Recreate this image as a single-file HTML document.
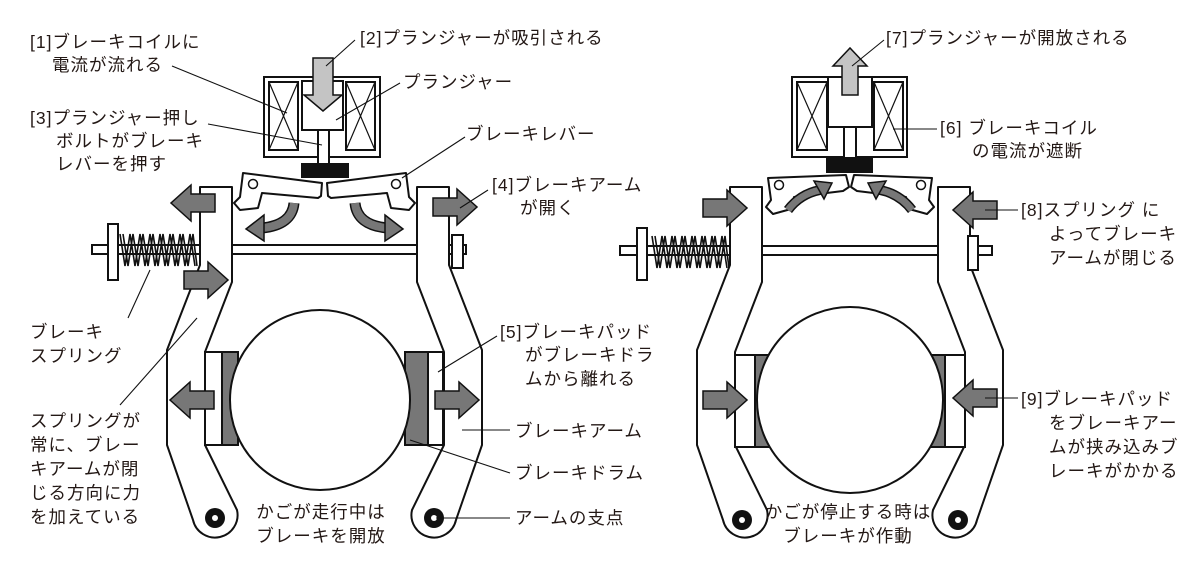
<!DOCTYPE html>
<html><head><meta charset="utf-8"><style>
html,body{margin:0;padding:0;background:#fff}
svg{display:block}
text{font-family:"Liberation Sans","Noto Sans CJK JP",sans-serif;font-size:17.5px;letter-spacing:1px;fill:#231815}
</style></head><body>
<svg width="1200" height="562" viewBox="0 0 1200 562" xmlns="http://www.w3.org/2000/svg">
<defs>
<path id="arr" d="M0,-9 L24,-9 L24,-18 L44,0 L24,18 L24,9 L0,9 Z" fill="#777" stroke="#111" stroke-width="1.5"/>
<path id="armL" d="M232,187 L200,187 L200,265 L167,350 L167,445 L193,520 A22,22 0 0 0 237,510 L205,445 L205,352 L232,282 Z" fill="#fff" stroke="#111" stroke-width="2" stroke-linejoin="round"/>
<g id="springL" fill="none" stroke="#111" stroke-width="1.6">
<path d="M120,234 L125,266 L130,234 L135,266 L140,234 L145,266 L150,234 L155,266 L160,234 L165,266 L170,234 L175,266 L180,234 L185,266 L190,234 L195,266"/>
<path d="M123,234 L128,266 L133,234 L138,266 L143,234 L148,266 L153,234 L158,266 L163,234 L168,266 L173,234 L178,266 L183,234 L188,266 L193,234 L197,266"/>
</g>
</defs>

<g stroke="#111" stroke-width="2" fill="#fff">
<rect x="92" y="245" width="374" height="9"/>
<rect x="108" y="224" width="10" height="56"/>
<rect x="452" y="235" width="11" height="33"/>
</g>
<use href="#springL"/>
<use href="#armL"/>
<use href="#armL" transform="translate(649,0) scale(-1,1)"/>
<g stroke="#111" stroke-width="2">
<rect x="205" y="352" width="17" height="93" fill="#fff"/>
<rect x="222" y="352" width="16" height="93" fill="#777"/>
<rect x="428" y="352" width="15" height="93" fill="#fff"/>
<rect x="405" y="352" width="23" height="93" fill="#777"/>
<circle cx="320" cy="400" r="90" fill="#fff"/>
</g>
<circle cx="215" cy="518" r="10" fill="#111"/><circle cx="215" cy="518" r="3" fill="#fff"/>
<circle cx="434" cy="518" r="10" fill="#111"/><circle cx="434" cy="518" r="3" fill="#fff"/>
<g stroke="#111" stroke-width="2" fill="#fff">
<rect x="264" y="77" width="116" height="80"/>
<rect x="269" y="82" width="29" height="68"/>
<rect x="346" y="82" width="29" height="68"/>
<rect x="302" y="81" width="41" height="49"/>
<rect x="318" y="130" width="11" height="34"/>
</g>
<path d="M269,82 L298,150 M298,82 L269,150 M346,82 L375,150 M375,82 L346,150" stroke="#111" stroke-width="1.2"/>
<rect x="301" y="163" width="48" height="15" fill="#111"/>
<path d="M313,58 L333,58 L333,95 L342,95 L323,111 L304,95 L313,95 Z" fill="#c4c4c4" stroke="#111" stroke-width="1.5"/>
<g id="levL">
<path d="M243,173 L322,183 L321,196 L318,198 L262,193 L258,208 L240,210 L234,203 L240,197 Z" fill="#fff" stroke="#111" stroke-width="2" stroke-linejoin="round"/>
<circle cx="253" cy="184" r="4.5" fill="#fff" stroke="#111" stroke-width="1.5"/>
<path d="M294,203 Q292,225 262,228" fill="none" stroke="#111" stroke-width="11"/>
<path d="M294,203 Q292,225 262,228" fill="none" stroke="#777" stroke-width="8"/>
<path d="M264,215 L246,229 L264,241 Z" fill="#777" stroke="#111" stroke-width="1.5"/>
</g>
<use href="#levL" transform="translate(649,0) scale(-1,1)"/>
<use href="#arr" transform="translate(215,203) scale(-1,1)"/>
<use href="#arr" transform="translate(433,207)"/>
<use href="#arr" transform="translate(184,280)"/>
<use href="#arr" transform="translate(214,400) scale(-1,1)"/>
<use href="#arr" transform="translate(435,400)"/>

<g stroke="#111" stroke-width="2" fill="#fff">
<rect x="620" y="246" width="372" height="9"/>
<rect x="637" y="228" width="10" height="52"/>
</g>
<use href="#springL" transform="translate(532,2)"/>
<use href="#armL" transform="translate(530,0)"/>
<use href="#armL" transform="translate(1170,0) scale(-1,1)"/>
<rect x="968" y="236" width="10" height="34" fill="#fff" stroke="#111" stroke-width="2"/>
<g stroke="#111" stroke-width="2">
<rect x="735" y="355" width="20" height="92" fill="#fff"/>
<rect x="755" y="355" width="14" height="92" fill="#777"/>
<rect x="945" y="355" width="20" height="92" fill="#fff"/>
<rect x="931" y="355" width="14" height="92" fill="#777"/>
<circle cx="850" cy="400" r="93" fill="#fff"/>
</g>
<circle cx="742" cy="520" r="10" fill="#111"/><circle cx="742" cy="520" r="3" fill="#fff"/>
<circle cx="958" cy="520" r="10" fill="#111"/><circle cx="958" cy="520" r="3" fill="#fff"/>
<g stroke="#111" stroke-width="2" fill="#fff">
<rect x="792" y="77" width="115" height="80"/>
<rect x="797" y="82" width="30" height="68"/>
<rect x="874" y="82" width="29" height="68"/>
<rect x="828" y="77" width="44" height="50"/>
<rect x="844" y="127" width="12" height="31"/>
</g>
<path d="M797,82 L827,150 M827,82 L797,150 M874,82 L903,150 M903,82 L874,150" stroke="#111" stroke-width="1.2"/>
<rect x="826" y="158" width="47" height="15" fill="#111"/>
<path d="M842,95 L858,95 L858,66 L867,66 L850,48 L833,66 L842,66 Z" fill="#c4c4c4" stroke="#111" stroke-width="1.5"/>
<g id="levR">
<path d="M768,178 L846,175 L849,187 L843,191 L794,197 L791,209 L773,214 L766,207 L771,200 Z" fill="#fff" stroke="#111" stroke-width="2" stroke-linejoin="round"/>
<circle cx="779" cy="185" r="4.5" fill="#fff" stroke="#111" stroke-width="1.5"/>
<path d="M788,210 Q800,194 820,190" fill="none" stroke="#111" stroke-width="10"/>
<path d="M788,210 Q800,194 820,190" fill="none" stroke="#777" stroke-width="7"/>
<path d="M814,181 L832,183 L824,199 Z" fill="#777" stroke="#111" stroke-width="1.5"/>
</g>
<use href="#levR" transform="translate(1700,0) scale(-1,1)"/>
<use href="#arr" transform="translate(703,208)"/>
<use href="#arr" transform="translate(997,210) scale(-1,1)"/>
<use href="#arr" transform="translate(703,400)"/>
<use href="#arr" transform="translate(997,398) scale(-1,1)"/>

<g stroke="#111" stroke-width="1.1">
<line x1="172" y1="66" x2="287" y2="113"/>
<line x1="208" y1="124" x2="322" y2="145"/>
<line x1="355" y1="40" x2="326" y2="66"/>
<line x1="400" y1="83" x2="336" y2="120"/>
<line x1="465" y1="137" x2="402" y2="178"/>
<line x1="488" y1="190" x2="460" y2="208"/>
<line x1="128" y1="318" x2="150" y2="270"/>
<line x1="120" y1="405" x2="197" y2="318"/>
<line x1="497" y1="336" x2="438" y2="372"/>
<line x1="510" y1="430" x2="462" y2="430"/>
<line x1="510" y1="473" x2="410" y2="440"/>
<line x1="510" y1="518" x2="436" y2="518"/>
<line x1="884" y1="40" x2="852" y2="66"/>
<line x1="937" y1="129" x2="893" y2="129"/>
<line x1="1018" y1="210" x2="985" y2="210"/>
<line x1="1018" y1="398" x2="985" y2="398"/>
</g>

<text x="30" y="48">[1]ブレーキコイルに</text>
<text x="52" y="71">電流が流れる</text>
<text x="30" y="124">[3]プランジャー押し</text>
<text x="56" y="147">ボルトがブレーキ</text>
<text x="56" y="170">レバーを押す</text>
<text x="30" y="338">ブレーキ</text>
<text x="30" y="362">スプリング</text>
<text x="30" y="427">スプリングが</text>
<text x="30" y="451">常に、ブレー</text>
<text x="30" y="475">キアームが閉</text>
<text x="30" y="499">じる方向に力</text>
<text x="30" y="523">を加えている</text>
<text x="360" y="44">[2]プランジャーが吸引される</text>
<text x="403" y="88">プランジャー</text>
<text x="466" y="140">ブレーキレバー</text>
<text x="492" y="191">[4]ブレーキアーム</text>
<text x="520" y="214">が開く</text>
<text x="500" y="338">[5]ブレーキパッド</text>
<text x="525" y="361">がブレーキドラ</text>
<text x="525" y="385">ムから離れる</text>
<text x="515" y="437">ブレーキアーム</text>
<text x="515" y="479">ブレーキドラム</text>
<text x="515" y="524">アームの支点</text>
<text x="321" y="518" text-anchor="middle">かごが走行中は</text>
<text x="321" y="542" text-anchor="middle">ブレーキを開放</text>
<text x="886" y="44">[7]プランジャーが開放される</text>
<text x="940" y="134">[6] ブレーキコイル</text>
<text x="972" y="157">の電流が遮断</text>
<text x="1021" y="216">[8]スプリング に</text>
<text x="1049" y="240">よってブレーキ</text>
<text x="1049" y="264">アームが閉じる</text>
<text x="1021" y="405">[9]ブレーキパッド</text>
<text x="1049" y="429">をブレーキアー</text>
<text x="1049" y="453">ムが挟み込みブ</text>
<text x="1049" y="477">レーキがかかる</text>
<text x="848" y="518" text-anchor="middle">かごが停止する時は</text>
<text x="848" y="542" text-anchor="middle">ブレーキが作動</text>
</svg>
</body></html>
